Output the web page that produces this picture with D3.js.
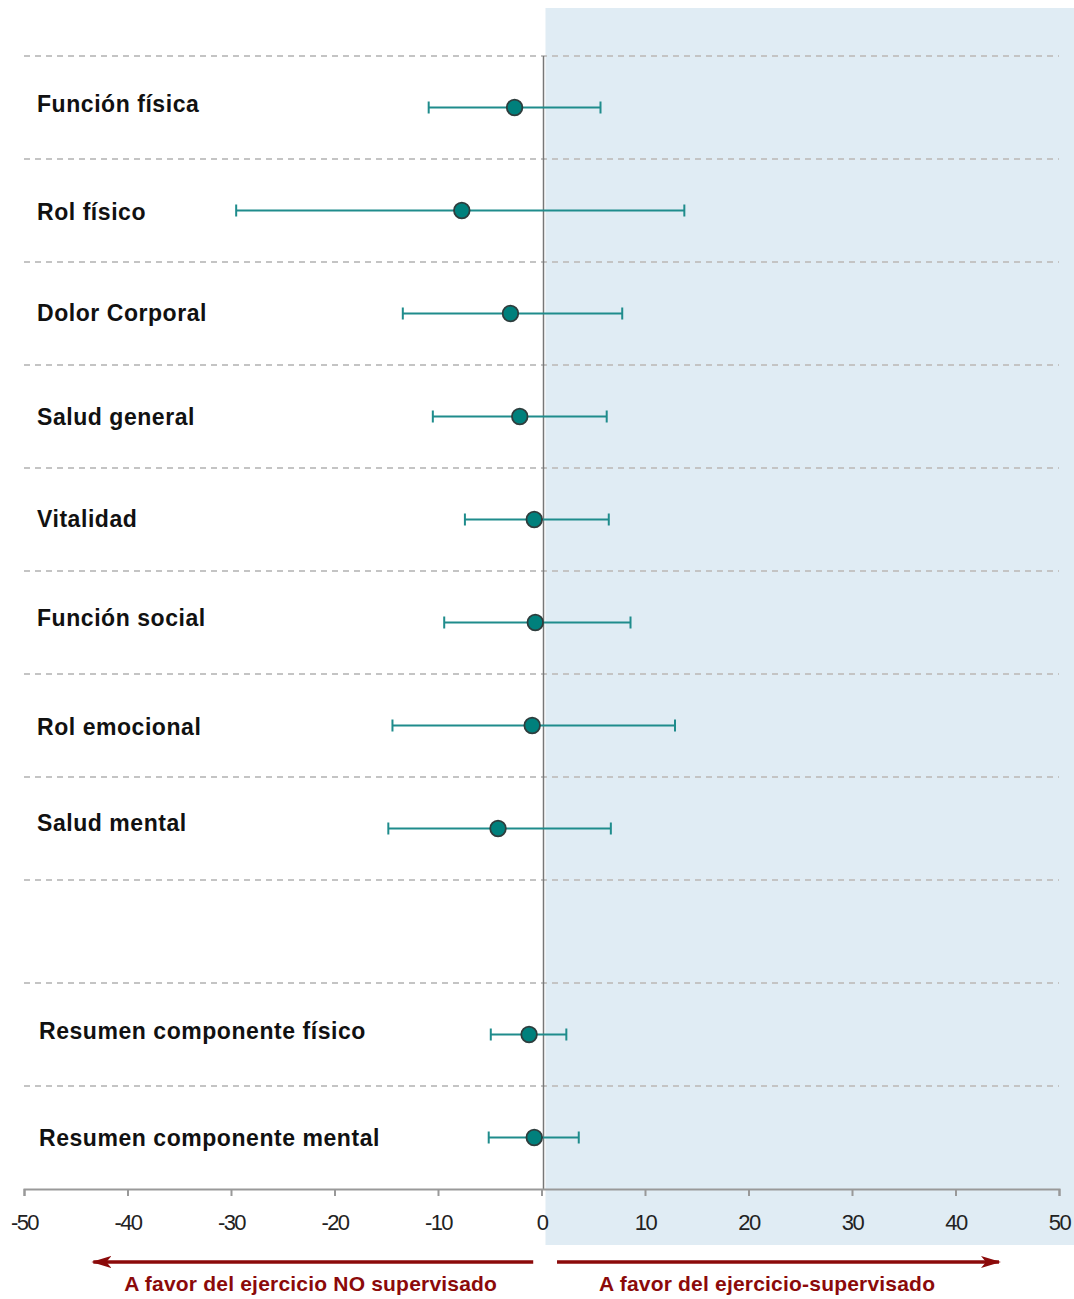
<!DOCTYPE html>
<html>
<head>
<meta charset="utf-8">
<script src="https://cdn.jsdelivr.net/npm/d3@7"></script>
<style>
  html, body { margin: 0; padding: 0; background: #fff; }
  svg { display: block; }
</style>
</head>
<body>
<svg id="chart" width="1074" height="1299"></svg>
<script>
// SF-36 domains: mean difference with 95% CI (supervised vs unsupervised exercise)
const outcomes = ["Función física", "Rol físico", "Dolor Corporal", "Salud general",
  "Vitalidad", "Función social", "Rol emocional", "Salud mental", "",
  "Resumen componente físico", "Resumen componente mental"];
const estimates = [-2.6, -7.7, -3.0, -2.1, -0.7, -0.6, -0.9, -4.2, null, -1.2, -0.7];
const lowerCI   = [-10.9, -29.5, -13.4, -10.5, -7.4, -9.4, -14.4, -14.8, null, -4.9, -5.1];
const upperCI   = [5.7, 13.8, 7.8, 6.3, 6.5, 8.6, 12.9, 6.7, null, 2.4, 3.6];
const xTicks = [-50, -40, -30, -20, -10, 0, 10, 20, 30, 40, 50];
const favourLabels = ["A favor del ejercicio NO supervisado", "A favor del ejercicio-supervisado"];

const svg = d3.select("#chart");
const x = d3.scaleLinear().domain([-50, 50]).range([24, 1059]);
const y = d3.scaleBand().domain(d3.range(outcomes.length)).range([56, 1189]).paddingInner(0).paddingOuter(0);

const teal = "#1f8c8c";
const darkRed = "#8b0a0a";

// shaded region favouring supervised exercise
svg.append("rect")
  .attr("x", x(0) + 4).attr("y", 8)
  .attr("width", 1074 - x(0) - 4).attr("height", 1245 - 8)
  .attr("fill", "#e0ecf4");

// dashed row separators
const seps = d3.range(outcomes.length).map(i => y(i));
svg.append("g").selectAll("line").data(seps).join("line")
  .attr("x1", 24).attr("x2", 1059)
  .attr("y1", d => d).attr("y2", d => d)
  .attr("stroke", "#c4c4c4").attr("stroke-width", 2)
  .attr("stroke-dasharray", "6,5");

// line of no effect
svg.append("line")
  .attr("x1", x(0) + 2).attr("x2", x(0) + 2)
  .attr("y1", 56).attr("y2", 1189)
  .attr("stroke", "#777").attr("stroke-width", 1.5);

// x axis
const axis = d3.axisBottom(x).tickValues(xTicks).tickSize(7).tickPadding(18).tickFormat(d => String(d));
const gx = svg.append("g").attr("transform", "translate(0,1189)").call(axis);
gx.select(".domain").attr("stroke", "#999").attr("stroke-width", 2);
gx.selectAll(".tick line").attr("stroke", "#999").attr("stroke-width", 2);
gx.selectAll(".tick text")
  .attr("font-family", "Liberation Sans, Arial, sans-serif")
  .attr("font-size", 22).attr("letter-spacing", "-1.6px")
  .attr("fill", "#222");

// outcome labels
const rows = outcomes.map((name, i) => ({ name, i, est: estimates[i], lo: lowerCI[i], hi: upperCI[i] }))
  .filter(d => d.est !== null);
const labelShift = [-4, 1, -1, 0, -1, -5, 1, -6, 0, -4, 0];
svg.append("g").selectAll("text").data(rows).join("text")
  .attr("x", d => d.i >= 9 ? 39 : 37)
  .attr("y", d => y(d.i) + y.bandwidth() / 2 + labelShift[d.i])
  .attr("dy", "0.35em")
  .attr("font-family", "Liberation Sans, Arial, sans-serif")
  .attr("font-weight", "bold").attr("font-size", 23)
  .attr("letter-spacing", "0.55px")
  .attr("fill", "#111")
  .text(d => d.name);

// confidence intervals
const ci = svg.append("g").selectAll("g").data(rows).join("g")
  .attr("transform", d => `translate(0,${y(d.i) + y.bandwidth() / 2})`);
ci.append("line")
  .attr("x1", d => x(d.lo)).attr("x2", d => x(d.hi))
  .attr("stroke", teal).attr("stroke-width", 2);
ci.append("line")
  .attr("x1", d => x(d.lo)).attr("x2", d => x(d.lo))
  .attr("y1", -6).attr("y2", 6)
  .attr("stroke", teal).attr("stroke-width", 2);
ci.append("line")
  .attr("x1", d => x(d.hi)).attr("x2", d => x(d.hi))
  .attr("y1", -6).attr("y2", 6)
  .attr("stroke", teal).attr("stroke-width", 2);
ci.append("circle")
  .attr("cx", d => x(d.est)).attr("cy", 0).attr("r", 7.8)
  .attr("fill", "#00807c").attr("stroke", "#2e3d3d").attr("stroke-width", 1.8);

// direction arrows
const defs = svg.append("defs");
defs.append("marker").attr("id", "arrowhead")
  .attr("viewBox", "0 0 20 12").attr("refX", 18).attr("refY", 6)
  .attr("markerWidth", 20).attr("markerHeight", 12)
  .attr("markerUnits", "userSpaceOnUse").attr("orient", "auto")
  .append("path").attr("d", "M0,0 L20,6 L0,12 L5,6 Z").attr("fill", darkRed);

svg.append("line")
  .attr("x1", x(-0.8)).attr("x2", x(-43.3))
  .attr("y1", 1262).attr("y2", 1262)
  .attr("stroke", darkRed).attr("stroke-width", 3.5)
  .attr("marker-end", "url(#arrowhead)");
svg.append("line")
  .attr("x1", x(1.5)).attr("x2", x(44.2))
  .attr("y1", 1262).attr("y2", 1262)
  .attr("stroke", darkRed).attr("stroke-width", 3.5)
  .attr("marker-end", "url(#arrowhead)");

svg.append("g").selectAll("text").data(favourLabels).join("text")
  .attr("x", (d, i) => i === 0 ? x(-22.3) : x(21.8))
  .attr("y", 1291)
  .attr("text-anchor", "middle")
  .attr("font-family", "Liberation Sans, Arial, sans-serif")
  .attr("font-weight", "bold").attr("font-size", 21)
  .attr("letter-spacing", "0.2px")
  .attr("fill", darkRed)
  .text(d => d);
</script>
</body>
</html>
